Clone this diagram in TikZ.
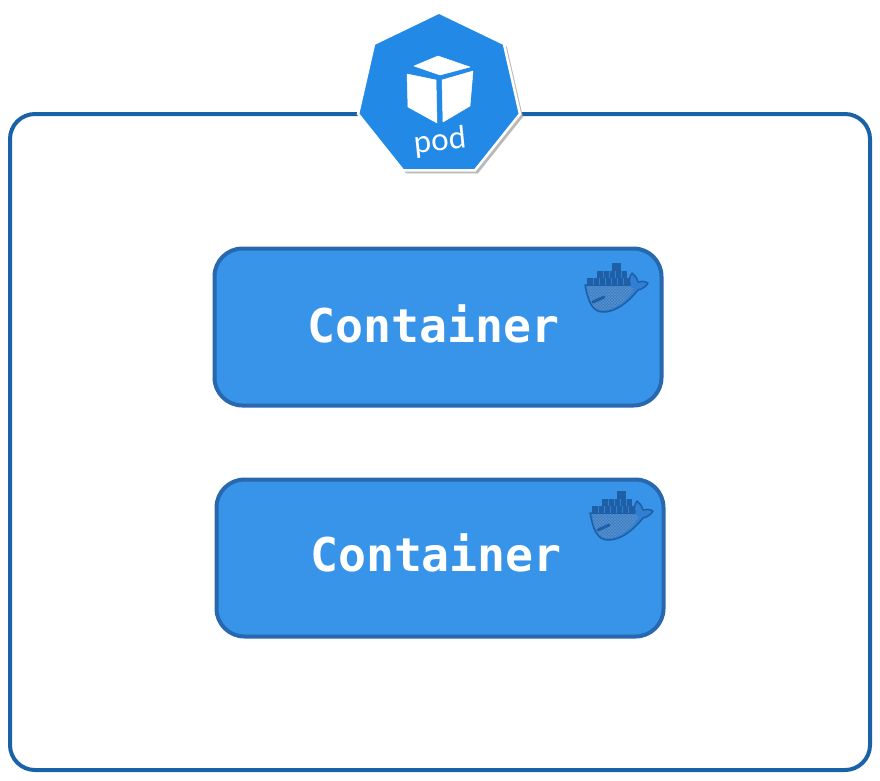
\documentclass[tikz,border=0pt]{standalone}
\usepackage{fontspec}
\newfontfamily\boxfont{DejaVu Sans Mono}
\newfontfamily\podfont{Lato}
\usetikzlibrary{positioning,shapes.geometric,patterns}
\definecolor{framecol}{HTML}{1A62A8}
\definecolor{boxfill}{HTML}{3894E8}
\definecolor{boxline}{HTML}{2868AE}
\definecolor{podblue}{HTML}{2389E6}
\definecolor{whaledark}{HTML}{1F5FA6}
\definecolor{whalefill}{HTML}{2F7FD2}

\begin{document}
\begin{tikzpicture}[
    x=1pt,y=-1pt,
    frame/.style={
      draw=framecol,
      line width=4pt,
      rounded corners=25pt,
      minimum width=860pt,
      minimum height=656pt
    },
    contbox/.style={
      draw=boxline,
      fill=boxfill,
      line width=4pt,
      rounded corners=28pt,
      minimum width=447pt,
      minimum height=157pt
    },
    contlabel/.style={
      text=white,
      font=\boxfont\bfseries\fontsize{46.5}{46.5}\selectfont
    },
    hept/.style={
      regular polygon,
      regular polygon sides=7,
      inner sep=0pt,
      minimum size=166pt
    },
    cubeface/.style={
      fill=white,
      draw=white,
      line width=.5pt,
      line join=round
    },
    whale/.pic={
      \filldraw[fill=whalefill,draw=whaledark,line width=1.5pt,line join=round]
        (1,22) .. controls (4,38) and (8,49) .. (19,49)
        .. controls (36,49) and (50,32) .. (54,27)
        .. controls (58,26) and (62,24) .. (64,20)
        .. controls (60,18) and (57,18) .. (54,19)
        .. controls (53,15) and (51,12) .. (48,10)
        .. controls (45,14) and (45,18) .. (46,22) -- cycle;
      \fill[pattern=crosshatch,pattern color=whaledark!70]
        (3,23) .. controls (5,38) and (9,47) .. (19,47)
        .. controls (32,47) and (44,36) .. (50,26) -- (46,23) -- cycle;
      \fill[whaledark] (28,0) rectangle (37,8);
      \fill[whaledark] (13,8) rectangle (43,15);
      \fill[whaledark] (3,15) rectangle (46,22);
      \foreach \gx in {9,15,21,27,33,39}
        \draw[whalefill,line width=.4pt] (\gx,15) -- (\gx,22);
      \foreach \gx in {19,25,31,37}
        \draw[whalefill,line width=.4pt] (\gx,8) -- (\gx,15);
      \draw[whaledark,line width=3pt,line cap=round] (9,39) -- (20,34);
    }
    ]
    \path[use as bounding box] (0,0) rectangle (880,780);

    \node[frame] (podframe) at (440,442) {};

    \node[hept,fill=gray!55] (podshadow) at (442,98.5) {};
    \node[hept,fill=podblue,draw=white,line width=2.5pt] (podicon) at (439,95.5) {};

    % cube
    \draw[cubeface] (438,56) -- (470,67) -- (440,75) -- (414,66) -- cycle;
    \draw[cubeface] (407,74) -- (436,80) -- (437,123) -- (408,107) -- cycle;
    \draw[cubeface] (442,80) -- (473,71) -- (470,106) -- (443,122) -- cycle;
    \node[text=white,rotate=6,font=\podfont\fontsize{31}{31}\selectfont] (podlabel) at (440,142) {pod};

    \node[contbox] (cont1) at (438,327) {};
    \node[contbox] (cont2) at (440,558) {};
    \node[contlabel] (label1) at (433.5,324) {Container};
    \node[contlabel] (label2) at (436,553) {Container};

    \pic at (584,263) {whale};
    \pic at (589,491) {whale};
\end{tikzpicture}
\end{document}
